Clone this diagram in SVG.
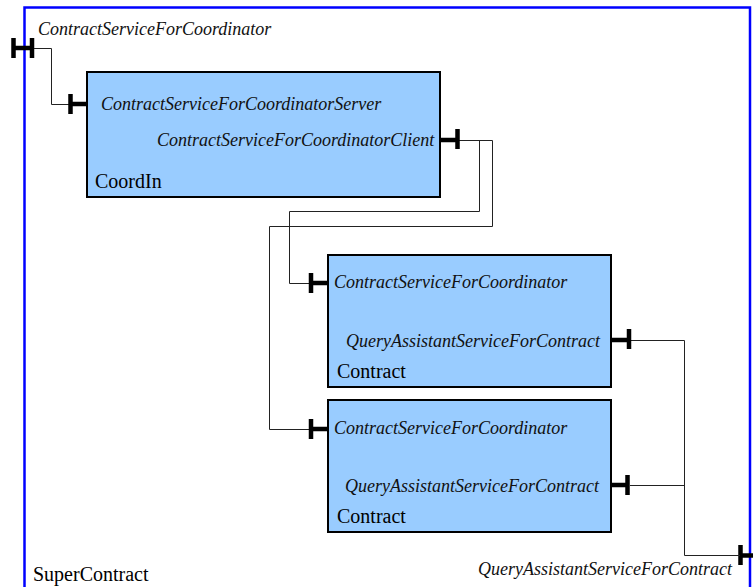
<svg xmlns="http://www.w3.org/2000/svg" width="753" height="587" viewBox="0 0 753 587">
<style>
.frame{fill:#fff;stroke:#0000ff;stroke-width:2.5}
.box{fill:#99ccff;stroke:#000;stroke-width:2}
.port{fill:none;stroke:#000;stroke-width:4.5}
.wire{fill:none;stroke:#222;stroke-width:1}
.it{font-family:"Liberation Serif","Times New Roman",serif;font-style:italic;font-size:18px;fill:#111}
.lbl{font-family:"Liberation Serif","Times New Roman",serif;font-size:20px;fill:#000}
</style>
<rect width="753" height="587" fill="#fff"/>
<g id="SuperContract">
<rect class="frame" x="24.5" y="7.5" width="725.5" height="620"/>
<text class="lbl" x="33" y="581">SuperContract</text>
<text class="it" x="38" y="35">ContractServiceForCoordinator</text>
<text class="it" x="478" y="575">QueryAssistantServiceForContract</text>
<path class="port" d="M13.5 38V58M32 38V58M13.5 48H32"/>
<path class="port" d="M740.5 545V565M740.5 555.5H753"/>
</g>
<g id="connectors">
<path class="wire" d="M34 48.5H51.5V104.5H70"/>
<path class="wire" d="M459 140.5H479.5V211.5H289.5V283.5H311"/>
<path class="wire" d="M459 140.5H492.5V226.5H269.5V429.5H311"/>
<path class="wire" d="M631 340.5H684.5V555.5H740"/>
<path class="wire" d="M630 485.5H684.5"/>
</g>
<g id="CoordIn">
<rect class="box" x="87" y="72" width="353" height="125"/>
<path class="port" d="M70.5 94V114M70.5 104H86"/>
<path class="port" d="M457.5 129V149M441 140H457.5"/>
<text class="it" x="101" y="110">ContractServiceForCoordinatorServer</text>
<text class="it" x="157" y="146">ContractServiceForCoordinatorClient</text>
<text class="lbl" x="95" y="188">CoordIn</text>
</g>
<g id="Contract1">
<rect class="box" x="328" y="255" width="283" height="132"/>
<path class="port" d="M311 273V293M311 283H327"/>
<path class="port" d="M629 329V349M612 340H629"/>
<text class="it" x="334" y="288">ContractServiceForCoordinator</text>
<text class="it" x="346" y="347">QueryAssistantServiceForContract</text>
<text class="lbl" x="337" y="378">Contract</text>
</g>
<g id="Contract2">
<rect class="box" x="328" y="400" width="283" height="132"/>
<path class="port" d="M311 419V439M311 429H327"/>
<path class="port" d="M627.5 475V495M611 485H627.5"/>
<text class="it" x="334" y="434">ContractServiceForCoordinator</text>
<text class="it" x="345" y="492">QueryAssistantServiceForContract</text>
<text class="lbl" x="337" y="523">Contract</text>
</g>
</svg>
